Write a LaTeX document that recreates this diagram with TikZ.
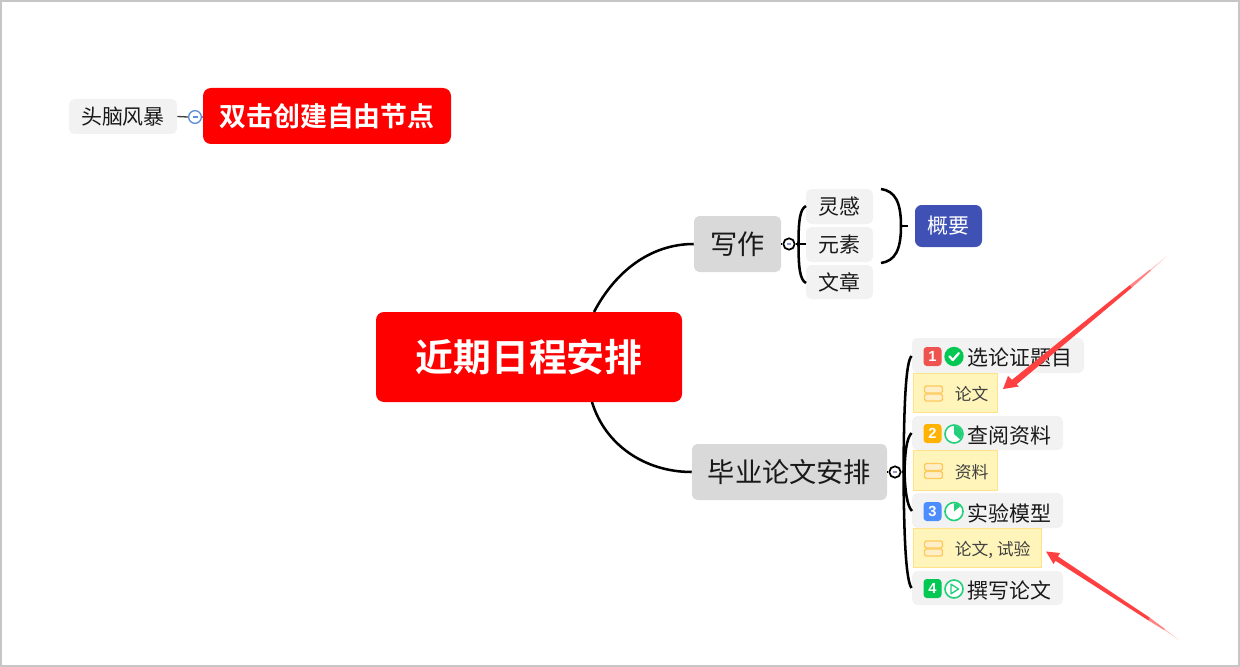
\documentclass[tikz,border=0pt]{standalone}
\usepackage{fontspec}
\setmainfont{Noto Sans CJK SC}
\newfontfamily\boldcjk{Noto Sans CJK SC Bold}
\newfontfamily\digitfont{Liberation Sans}
\definecolor{frameg}{HTML}{C6C6C6}
\definecolor{lightg}{HTML}{F2F2F2}
\definecolor{midg}{HTML}{D9D9D9}
\definecolor{sumblue}{HTML}{3F51B5}
\definecolor{notefill}{HTML}{FFF5BA}
\definecolor{noteline}{HTML}{FFE28A}
\definecolor{iconline}{HTML}{FFC95C}
\definecolor{iconfill}{HTML}{FFEFC9}
\definecolor{arrowred}{HTML}{FF4040}
\definecolor{okgreen}{HTML}{00C853}
\definecolor{ringgreen}{HTML}{22D07A}
\definecolor{bredc}{HTML}{EF5350}
\definecolor{borange}{HTML}{FFB300}
\definecolor{bblue}{HTML}{4C8DFF}
\definecolor{bgreen}{HTML}{00C853}
\definecolor{foldblue}{HTML}{5B8FD9}
\newcommand{\bx}[8][]{\node[#2,minimum width={(#5-#3)*0.75pt},minimum height={(#6-#4)*0.75pt},#1] (#7) at ({(#3+#5)/2},{(#4+#6)/2}) {\raisebox{-1.2pt}{#8}};}
\tikzset{
  box/.style={rounded corners=4pt,inner sep=0pt,text=black!90},
  grayA/.style={box,fill=lightg,font=\fontsize{15.7pt}{18pt}\selectfont},
  grayB/.style={box,fill=midg,font=\fontsize{20.4pt}{24pt}\selectfont},
  redbox/.style={box,rounded corners=6pt,fill=red,text=white},
  sumbox/.style={box,rounded corners=5pt,fill=sumblue,text=white,font=\fontsize{15.7pt}{18pt}\selectfont},
  notebox/.style={draw=noteline,fill=notefill,line width=.75pt,inner sep=0pt},
  notetxt/.style={inner sep=0pt,anchor=west,text=black!75,font=\fontsize{12.6pt}{15pt}\selectfont},
  tasktxt/.style={inner sep=0pt,anchor=west,text=black!90,font=\fontsize{15.7pt}{18pt}\selectfont},
  badge/.style={rounded corners=2.5pt,inner sep=0pt,text=white,font=\digitfont\bfseries\fontsize{11pt}{12pt}\selectfont},
  ring/.style={circle,draw=ringgreen,fill=white,line width=1.2pt,inner sep=0pt,minimum size=13.5pt},
  fold/.style={circle,draw=black,fill=white,line width=1.3pt,inner sep=0pt,minimum size=8.5pt},
  link/.style={draw=black,line width=1.9pt},
  icobar/.style={draw=iconline,fill=iconfill,line width=1.1pt,rounded corners=1.2pt},
}
\begin{document}
\begin{tikzpicture}[x=0.75pt,y=-0.75pt]
\useasboundingbox (0,0) rectangle (1240,667);
\draw[frameg,line width=1.5pt] (1,1) rectangle (1239,666);

% nodes
\bx{redbox,font=\boldcjk\fontsize{28.4pt}{32pt}\selectfont}{376}{312}{682}{402}{center}{近期日程安排}
\bx{grayB}{694}{216}{781}{272}{xz}{写作}
\bx{grayB}{692}{444}{887}{500}{by}{毕业论文安排}
\bx{grayA}{806}{189}{873}{224}{lg}{灵感}
\bx{grayA}{806}{227}{873}{262}{ys}{元素}
\bx{grayA}{806}{265}{873}{299}{wz}{文章}
\bx{sumbox}{915}{205}{982}{247}{gy}{概要}
\bx{grayA}{69}{99}{177}{134}{tn}{头脑风暴}
\bx{redbox,font=\boldcjk\fontsize{20.2pt}{24pt}\selectfont}{203}{88}{451}{144}{sj}{双击创建自由节点}

\bx{grayA}{912}{338}{1084}{373}{b1}{}
\bx{grayA}{912}{416}{1063}{450}{b2}{}
\bx{grayA}{912}{493}{1063}{528}{b3}{}
\bx{grayA}{912}{571}{1063}{605}{b4}{}
\node[tasktxt] (t1) at (967,358) {选论证题目};
\node[tasktxt] (t2) at (967,435.5) {查阅资料};
\node[tasktxt] (t3) at (967,513) {实验模型};
\node[tasktxt] (t4) at (967,590.5) {撰写论文};

\bx{notebox}{913}{373.5}{997}{412}{n1}{}
\bx{notebox}{913}{450.5}{997}{490}{n2}{}
\bx{notebox}{913}{528.5}{1041}{567}{n3}{}
\node[notetxt] (nt1) at (954.5,394.5) {论文};
\node[notetxt] (nt2) at (954.5,472) {资料};
\node[notetxt] (nt3) at (954.5,549.5) {论文, 试验};

% note icons
\foreach \yy in {386,463.5,541}{
  \draw[icobar] (924.5,\yy) rectangle (942.5,\yy+7);
  \draw[icobar] (924.5,\yy+8) rectangle (942.5,\yy+15);
}

% badges
\bx[fill=bredc]{badge}{923.5}{347}{941.5}{366}{q1}{1}
\bx[fill=borange]{badge}{923.5}{424}{941.5}{443}{q2}{2}
\bx[fill=bblue]{badge}{923.5}{502}{941.5}{521}{q3}{3}
\bx[fill=bgreen]{badge}{923.5}{579}{941.5}{598}{q4}{4}

% status icons
\node[circle,fill=okgreen,inner sep=0pt,minimum size=14.5pt] (s1) at (954,356.5) {};
\draw[white,line width=1.7pt,line cap=round,line join=round] (949.5,356.5) -- (952.8,360) -- (958.8,353.2);
\node[ring] (s2) at (954,434) {};
\fill[ringgreen] (s2.center) -- ++(0,-8.2) arc[start angle=-90,end angle=42,radius=8.2] -- cycle;
\node[ring] (s3) at (954,511.5) {};
\fill[ringgreen] (s3.center) -- ++(0,-8.2) arc[start angle=-90,end angle=-40,radius=8.2] -- cycle;
\node[ring] (s4) at (954,589) {};
\draw[ringgreen,line width=1pt,line join=round] (951,584.2) -- (958.6,589) -- (951,593.8) -- cycle;

% named free ends
\coordinate (c1) at (594,312);
\coordinate (c2) at (592,402);
\coordinate (x1) at (806,206);
\coordinate (x2) at (806,244);
\coordinate (x3) at (806,283);
\coordinate (m1) at (881,189);
\coordinate (m2) at (881,263);
\coordinate (m3) at (901,226);
\coordinate (m4) at (908,226);

\draw[link] (c1) .. controls (615,272) and (650,244) .. (xz.west);
\draw[link] (c2) .. controls (605,445) and (645,472) .. (by.west);

% write brace
\node[fold] (f1) at (789,244) {};
\draw[link] (xz.east) -- (f1.west);
\draw[link] (f1.east) -- (x2);
\draw[link] (x1) .. controls (800,209) and (798.5,220) .. (798.5,244) .. controls (798.5,268) and (800,280) .. (x3);
\draw[sumblue!60,line width=.8pt] (787,244) -- (791,244);

% summary brace
\draw[link] (m1) .. controls (895,191) and (901,202) .. (m3) .. controls (901,250) and (895,261) .. (m2);
\draw[link] (m3) -- (m4);

% thesis tree
\node[fold] (f2) at (895,472) {};
\draw[link] (by.east) -- (f2.west);
\draw[link] (f2.east) -- (904,472);
\coordinate (e1) at (911.5,356);
\coordinate (e2) at (911.5,433);
\coordinate (e3) at (912,511);
\coordinate (e4) at (911.5,588);
\draw[link] (e1) .. controls (906,362) and (904,400) .. (903.5,472) .. controls (904,540) and (906,580) .. (e4);
\draw[link] (e2) .. controls (907,438) and (905,450) .. (904.5,472) .. controls (905,490) and (907,506) .. (e3);
\draw[sumblue!60,line width=.8pt] (893,472) -- (897,472);

% free topic
\node[circle,draw=foldblue,fill=white,line width=1pt,inner sep=0pt,minimum size=9.5pt] (f3) at (195,117) {};
\draw[draw=black!75,line width=1pt] (tn.east) -- (f3.west);
\draw[foldblue,line width=.8pt] (192.5,117) -- (197.5,117);
\coordinate (f3e) at (203,117);
\draw[foldblue,line width=1pt] (f3.east) -- (f3e);

% red annotation arrows
\fill[arrowred] (1003,389) -- (1008,376) -- (1012,379.8) -- (1130,285) -- (1132,287.5) -- (1016.5,384.5) -- (1019,386.5) -- cycle;
\fill[arrowred!65] (1130,285) -- (1150,269.5) -- (1151,270.5) -- (1132,287.5) -- cycle;
\fill[arrowred!30] (1150,269.5) -- (1167,256) -- (1151,270.5) -- cycle;

\fill[arrowred] (1046,551.5) -- (1060,553) -- (1058,556.5) -- (1150,617.8) -- (1148.5,620.5) -- (1055.5,560.8) -- (1053.5,564) -- cycle;
\fill[arrowred!65] (1150,617.8) -- (1165,629) -- (1164,630) -- (1148.5,620.5) -- cycle;
\fill[arrowred!30] (1165,629) -- (1179,640) -- (1164,630) -- cycle;
\end{tikzpicture}
\end{document}
